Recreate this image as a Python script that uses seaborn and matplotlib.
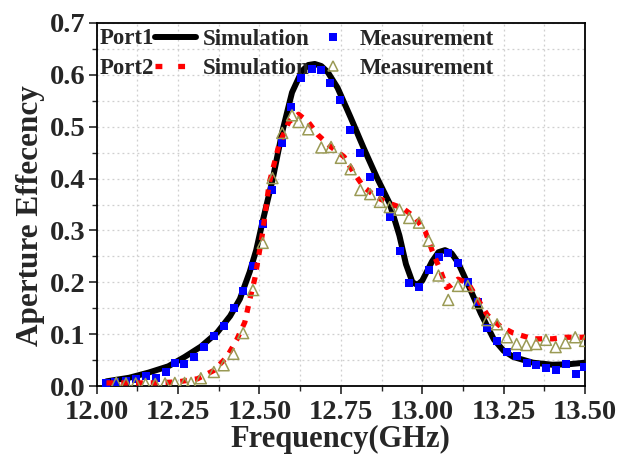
import numpy as np
import pandas as pd
import matplotlib
matplotlib.use("Agg")
import matplotlib.pyplot as plt
from matplotlib.lines import Line2D
from matplotlib.ticker import MultipleLocator, FormatStrFormatter
import seaborn as sns

# Port 1 simulated aperture efficiency
p1_sim_freq = [12.03, 12.10, 12.16, 12.22, 12.27, 12.32, 12.37, 12.41, 12.44, 12.47,
               12.49, 12.51, 12.54, 12.57, 12.60, 12.63, 12.65, 12.67, 12.69, 12.71,
               12.74, 12.78, 12.82, 12.86, 12.90, 12.93, 12.95, 12.97, 12.985, 13.00,
               13.03, 13.05, 13.07, 13.09, 13.11, 13.14, 13.18, 13.22, 13.25, 13.28,
               13.34, 13.40, 13.45, 13.50]
p1_sim_eff = [0.009, 0.016, 0.026, 0.038, 0.056, 0.076, 0.103, 0.135, 0.168, 0.220,
              0.262, 0.318, 0.397, 0.490, 0.566, 0.607, 0.619, 0.621, 0.617, 0.605,
              0.575, 0.518, 0.459, 0.403, 0.352, 0.290, 0.235, 0.200, 0.195, 0.203,
              0.240, 0.258, 0.262, 0.256, 0.238, 0.197, 0.140, 0.090, 0.068, 0.056,
              0.045, 0.041, 0.042, 0.045]

# Port 1 measured aperture efficiency
p1_meas_freq = [12.03, 12.056, 12.09, 12.12, 12.151, 12.182, 12.213, 12.241, 12.268, 12.299,
                12.33, 12.361, 12.392, 12.422, 12.449, 12.48, 12.511, 12.539, 12.569, 12.597,
                12.628, 12.662, 12.689, 12.717, 12.747, 12.778, 12.809, 12.839, 12.87, 12.901,
                12.932, 12.959, 12.99, 13.021, 13.052, 13.079, 13.11, 13.141, 13.172, 13.199,
                13.23, 13.261, 13.292, 13.322, 13.35, 13.381, 13.411, 13.442, 13.473, 13.497]
p1_meas_eff = [0.006, 0.008, 0.010, 0.014, 0.019, 0.015, 0.027, 0.044, 0.042, 0.056,
               0.075, 0.096, 0.116, 0.150, 0.183, 0.231, 0.312, 0.378, 0.469, 0.538,
               0.594, 0.611, 0.609, 0.584, 0.551, 0.494, 0.449, 0.403, 0.374, 0.326,
               0.260, 0.199, 0.191, 0.224, 0.249, 0.256, 0.237, 0.201, 0.162, 0.112,
               0.087, 0.066, 0.058, 0.044, 0.040, 0.035, 0.031, 0.042, 0.023, 0.037]

# Port 2 simulated aperture efficiency
p2_sim_freq = [12.03, 12.10, 12.18, 12.25, 12.31, 12.36, 12.40, 12.43, 12.455, 12.47,
               12.486, 12.51, 12.53, 12.56, 12.59, 12.62, 12.65, 12.68, 12.72, 12.76,
               12.79, 12.82, 12.86, 12.90, 12.94, 12.98, 13.01, 13.03, 13.055, 13.075,
               13.09, 13.11, 13.14, 13.17, 13.20, 13.24, 13.28, 13.34, 13.40, 13.44, 13.50]
p2_sim_eff = [0.006, 0.006, 0.006, 0.008, 0.014, 0.030, 0.056, 0.089, 0.123, 0.166,
              0.208, 0.297, 0.391, 0.465, 0.509, 0.524, 0.509, 0.484, 0.461, 0.442,
              0.411, 0.384, 0.364, 0.352, 0.343, 0.324, 0.297, 0.262, 0.224, 0.190,
              0.195, 0.206, 0.199, 0.168, 0.137, 0.115, 0.102, 0.091, 0.091, 0.094, 0.094]

# Port 2 measured aperture efficiency
p2_meas_freq = [12.06, 12.09, 12.12, 12.15, 12.18, 12.21, 12.24, 12.27, 12.29, 12.32,
                12.36, 12.39, 12.42, 12.45, 12.48, 12.51, 12.54, 12.57, 12.60, 12.62,
                12.65, 12.69, 12.72, 12.75, 12.78, 12.81, 12.84, 12.87, 12.90, 12.93,
                12.96, 12.99, 13.02, 13.05, 13.08, 13.11, 13.14, 13.17, 13.20, 13.23,
                13.26, 13.29, 13.32, 13.35, 13.38, 13.41, 13.44, 13.47, 13.50]
p2_meas_eff = [0.006, 0.005, 0.005, 0.004, 0.004, 0.005, 0.006, 0.006, 0.006, 0.015,
               0.027, 0.040, 0.062, 0.102, 0.185, 0.276, 0.401, 0.488, 0.522, 0.509,
               0.495, 0.460, 0.461, 0.440, 0.418, 0.378, 0.370, 0.355, 0.345, 0.340,
               0.324, 0.315, 0.280, 0.213, 0.166, 0.193, 0.193, 0.160, 0.127, 0.119,
               0.094, 0.081, 0.079, 0.081, 0.089, 0.075, 0.083, 0.094, 0.087]

x_ticks = [12.00, 12.25, 12.50, 12.75, 13.00, 13.25, 13.50]
y_ticks = [0.0, 0.1, 0.2, 0.3, 0.4, 0.5, 0.6, 0.7]

sns.set_style("ticks")
plt.rcParams["font.family"] = ["Liberation Serif", "DejaVu Serif"]
plt.rcParams["font.weight"] = "bold"

fig = plt.figure(figsize=(6.34, 4.59), dpi=100)
ax = fig.add_axes([0.1525, 0.1590, 0.7702, 0.7909])

df1s = pd.DataFrame({"f": p1_sim_freq, "e": p1_sim_eff})
df1m = pd.DataFrame({"f": p1_meas_freq, "e": p1_meas_eff})
df2s = pd.DataFrame({"f": p2_sim_freq, "e": p2_sim_eff})
df2m = pd.DataFrame({"f": p2_meas_freq, "e": p2_meas_eff})

sns.lineplot(data=df1s, x="f", y="e", ax=ax, color="black", lw=4.3,
             sort=False, zorder=3)
sns.scatterplot(data=df1m, x="f", y="e", ax=ax, marker="s", color="#0000ff",
                edgecolor="#0000ff", s=40, linewidth=0, zorder=4)
sns.lineplot(data=df2s, x="f", y="e", ax=ax, color="#ff0000", lw=3.8,
             sort=False, zorder=5, dashes=False)
ax.lines[-1].set_dashes([1.3, 1.5])
sns.scatterplot(data=df2m, x="f", y="e", ax=ax, marker="^", facecolor="none",
                edgecolor="#9a9a55", s=62, linewidth=1.1, zorder=6)

ax.set_xlim(12.0, 13.5)
ax.set_ylim(0.0, 0.7)
ax.set_xticks(x_ticks)
ax.set_yticks(y_ticks)
ax.xaxis.set_major_formatter(FormatStrFormatter("%.2f"))
ax.yaxis.set_major_formatter(FormatStrFormatter("%.1f"))
ax.xaxis.set_minor_locator(MultipleLocator(0.125))
ax.yaxis.set_minor_locator(MultipleLocator(0.05))
ax.tick_params(which="major", direction="out", length=6, width=1.2,
               labelsize=20.5)
ax.tick_params(axis="x", which="major", pad=4)
ax.tick_params(axis="y", which="major", pad=2)
ax.tick_params(which="minor", direction="out", length=3.5, width=1.0)
for lab in ax.get_xticklabels() + ax.get_yticklabels():
    lab.set_fontweight("bold")

ax.grid(True, which="both", color="#cfcfcf", linestyle=(0, (1.5, 2.5)), lw=0.9)
ax.set_axisbelow(True)
for sp in ax.spines.values():
    sp.set_visible(True)
    sp.set_color("black")
    sp.set_linewidth(1.3)

ax.set_xlabel("Frequency(GHz)", fontsize=22, fontweight="bold", labelpad=0)
ax.set_ylabel("Aperture Effecency", fontsize=22.5, fontweight="bold", labelpad=4)
ax.yaxis.set_label_coords(-0.106, 0.47)

# Two-row legend: simulation / measurement per port
handles = [
    Line2D([], [], color="black", lw=4.3),
    Line2D([], [], color="#ff0000", lw=3.8, dashes=[1.3, 3.0]),
    Line2D([], [], color="#0000ff", marker="s", ls="none", markersize=6.4,
           markeredgewidth=0),
    Line2D([], [], color="#9a9a55", marker="^", ls="none", markersize=7.6,
           markerfacecolor="none", markeredgewidth=1.1),
]
labels = ["Simulation", "Simulation", "Measurement", "Measurement"]
leg = ax.legend(handles, labels, ncol=2, loc="upper left",
                bbox_to_anchor=(0.119, 0.984), frameon=False, borderpad=0,
                borderaxespad=0, handlelength=1.8, handletextpad=0.3,
                columnspacing=0.1, labelspacing=0.36,
                prop={"size": 16.5, "weight": "bold"})
ax.text(0.007, 0.958, "Port1", transform=ax.transAxes, fontsize=16.5,
        fontweight="bold", va="center", ha="left")
ax.text(0.007, 0.876, "Port2", transform=ax.transAxes, fontsize=16.5,
        fontweight="bold", va="center", ha="left")

fig.savefig("out.png", dpi=100)
